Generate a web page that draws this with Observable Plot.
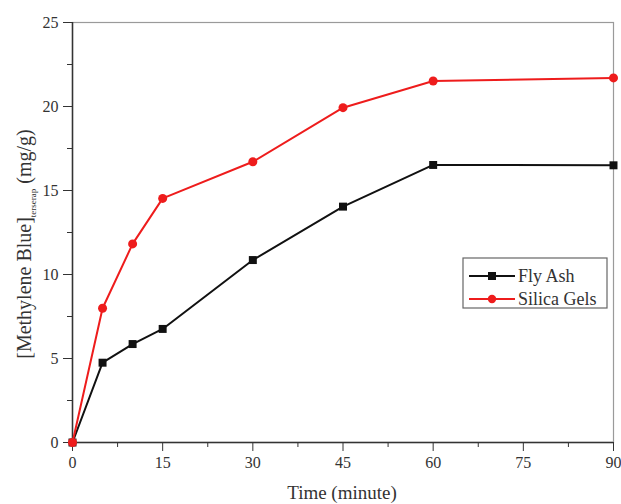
<!DOCTYPE html>
<html>
<head>
<meta charset="utf-8">
<script src="https://cdn.jsdelivr.net/npm/d3@7"></script>
<script src="https://cdn.jsdelivr.net/npm/@observablehq/plot@0.6"></script>
<style>
  html, body { margin: 0; padding: 0; background: #fff; }
  #chart { width: 621px; height: 504px; }
</style>
</head>
<body>
<div id="chart"></div>
<script>
// ---- data ----
const times = [0, 5, 10, 15, 30, 45, 60, 90];
const flyAsh = [0, 4.75, 5.86, 6.76, 10.86, 14.04, 16.52, 16.5];
const silicaGels = [0, 7.99, 11.82, 14.53, 16.71, 19.93, 21.52, 21.7];
const seriesNames = ["Fly Ash", "Silica Gels"];
const seriesColors = ["#111111", "#ee1c1c"];
const xTicks = [0, 15, 30, 45, 60, 75, 90];
const xMinorTicks = [7.5, 22.5, 37.5, 52.5, 67.5, 82.5];
const yTicks = [0, 5, 10, 15, 20, 25];
const yMinorTicks = [2.5, 7.5, 12.5, 17.5, 22.5];

const fly = times.map((t, i) => ({t, v: flyAsh[i]}));
const sil = times.map((t, i) => ({t, v: silicaGels[i]}));

const font = "'Liberation Serif', 'Times New Roman', serif";

const svg = Plot.plot({
  width: 621,
  height: 504,
  marginLeft: 72,
  marginRight: 8,
  marginTop: 22,
  marginBottom: 62,
  style: {fontFamily: font, fontSize: "16px", color: "#333", background: "#fff"},
  x: {domain: [0, 90], label: null},
  y: {domain: [0, 25], label: null},
  marks: [
    Plot.frame({stroke: "#9a9a9a", strokeWidth: 1.2}),
    Plot.axisX(xTicks, {tickSize: 9, tickPadding: 5, stroke: "#333", fill: "#333", fontSize: 16}),
    Plot.axisX(xMinorTicks, {tickSize: 5, tickFormat: () => "", stroke: "#333"}),
    Plot.axisY(yTicks, {tickSize: 9, tickPadding: 5, stroke: "#333", fill: "#333", fontSize: 16}),
    Plot.axisY(yMinorTicks, {tickSize: 5, tickFormat: () => "", stroke: "#333"}),
    Plot.ruleY([0], {stroke: "#333", strokeWidth: 1.5}),
    Plot.ruleX([0], {stroke: "#333", strokeWidth: 1.5}),
    Plot.line(fly, {x: "t", y: "v", stroke: seriesColors[0], strokeWidth: 2}),
    Plot.dot(fly, {x: "t", y: "v", symbol: "square", r: 4.5, fill: seriesColors[0], stroke: "none"}),
    Plot.line(sil, {x: "t", y: "v", stroke: seriesColors[1], strokeWidth: 2}),
    Plot.dot(sil, {x: "t", y: "v", symbol: "circle", r: 4.5, fill: seriesColors[1], stroke: "none"})
  ]
});

const s = d3.select(svg);

// x axis title
s.append("text")
  .attr("x", 342).attr("y", 499)
  .attr("text-anchor", "middle")
  .attr("fill", "#333")
  .style("font-family", font).style("font-size", "19px")
  .text("Time (minute)");

// y axis title with subscript
const yl = s.append("text")
  .attr("transform", "translate(31,244) rotate(-90)")
  .attr("text-anchor", "middle")
  .attr("fill", "#333")
  .style("font-family", font).style("font-size", "20px");
yl.append("tspan").text("[Methylene Blue]");
yl.append("tspan").attr("dy", 5).style("font-size", "9px").text("terserap");
yl.append("tspan").attr("dy", -5).text("\u00a0(mg/g)");

// legend
const lg = s.append("g");
lg.append("rect").attr("x", 463).attr("y", 258).attr("width", 144).attr("height", 50)
  .attr("fill", "#fff").attr("stroke", "#666").attr("stroke-width", 1.2);
seriesNames.forEach((name, i) => {
  const y = 276 + i * 23;
  lg.append("line").attr("x1", 469).attr("x2", 515).attr("y1", y).attr("y2", y)
    .attr("stroke", seriesColors[i]).attr("stroke-width", 2);
  if (i === 0) {
    lg.append("rect").attr("x", 488).attr("y", y - 4).attr("width", 8).attr("height", 8).attr("fill", seriesColors[i]);
  } else {
    lg.append("circle").attr("cx", 492).attr("cy", y).attr("r", 4.2).attr("fill", seriesColors[i]);
  }
  lg.append("text").attr("x", 518).attr("y", y + 6)
    .attr("text-anchor", "start")
    .attr("fill", "#333")
    .style("font-family", font).style("font-size", "18px")
    .text(name);
});

document.getElementById("chart").appendChild(svg);
</script>
</body>
</html>
